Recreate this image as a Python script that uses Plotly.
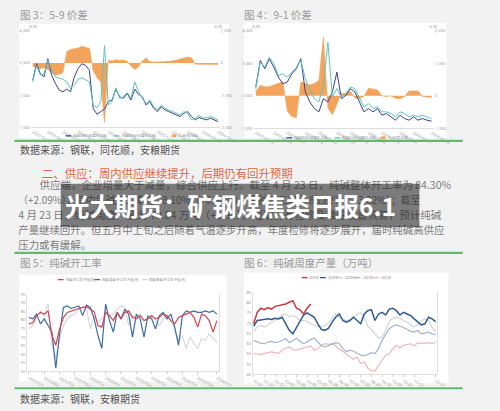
import plotly.graph_objects as go

CJK = "Noto Sans CJK SC"

# ---------------- Figure 3: 5-9 spread ----------------
c3_may = [2464, 2976, 2669, 2567, 3130, 2618, 2362, 2157, 2106, 2188,
          2106, 2567, 2823, 2976, 2925, 2772, 1594, 1410, 1492, 1573,
          1799, 1850, 2188, 1952, 1901, 2055, 1850, 2188, 2024, 1952,
          1696, 1799, 1594, 1492, 1645, 1543, 1492, 1440, 1389, 1338,
          1440, 1492, 1338, 1236, 1307, 1266, 1236, 1287, 1236, 1184]
c3_sep = [2413, 2925, 2618, 2669, 3079, 2772, 2567, 2536, 2495, 2413,
          2208, 2311, 2495, 2536, 2464, 2413, 1696, 1614, 1799, 3540,
          1696, 1799, 2229, 1901, 1952, 2085, 1901, 2413, 2106, 1901,
          1748, 1850, 1645, 1543, 1696, 1594, 1543, 1492, 1440, 1389,
          1492, 1440, 1236, 1287, 1369, 1287, 1307, 1338, 1287, 1236]
c3_spread = [-100, -150, -180, -150, -200, -300, -380, -350, -300, 350,
             420, 440, 460, 520, 480, 450, -250, -450, -600, -1850,
             80, 60, 100, 80, 90, 50, -100, -200, -120, 60,
             150, 40, 30, 30, 20, 40, 50, 60, 80, 120,
             150, 180, 160, -40, -40, -50, -40, -50, -40, -60]
c3_dates = ["2022-01-10", "2022-04-09", "2022-07-27", "2022-10-16", "2023-01-03",
            "2023-03-24", "2023-06-12", "2023-08-31", "2023-11-19", "2024-02-07",
            "2024-04-27", "2024-07-16", "2024-10-04"]
c3_names = ["纯碱05合约收盘价(左轴)", "纯碱09合约收盘价(左轴)", "5-9价差(右轴)"]

# ---------------- Figure 4: 9-1 spread ----------------
c4_sep = [2271, 3085, 2831, 3136, 2881, 2576, 2373, 2424, 2678, 2831,
          3136, 2119, 1814, 1610, 1509, 1915, 1814, 2119, 2729, 1915,
          2017, 2220, 2119, 1814, 1509, 1610, 1509, 1610, 1407, 1458,
          1356, 1254, 1407, 1305, 1254, 1356, 1254, 1305, 1254, 1224]
c4_jan = [2220, 3034, 2881, 3187, 2983, 2627, 2678, 2576, 2729, 2881,
          3085, 2526, 2170, 1915, 1814, 2322, 3644, 1966, 2220, 1966,
          2068, 2271, 2220, 1915, 1661, 1763, 1610, 1661, 1509, 1509,
          1458, 1356, 1509, 1458, 1356, 1407, 1356, 1407, 1356, 1305]
c4_spread = [130, 330, 280, 280, 330, 380, 430, -470, -630, -680,
             430, 380, 330, 380, 480, 1800, -370, -580, -270, 80,
             80, 130, -70, -70, -20, 230, 210, 180, 0, -20,
             0, -70, -90, -20, 150, 150, 150, -20, -40, -50]
c4_dates = ["2022-01-10", "2022-04-09", "2022-07-27", "2022-10-16", "2023-01-03",
            "2023-03-24", "2023-06-12", "2023-08-31", "2023-11-19", "2024-02-07",
            "2024-04-27", "2024-07-16"]
c4_names = ["纯碱09合约收盘价(左轴)", "纯碱01合约收盘价(左轴)", "9-1价差(右轴)"]

# ---------------- Figure 5: soda ash operating rate ----------------
c5_total = [77.8, 78.4, 82.6, 84.5, 83.5, 85.4, 71.1, 65.3, 74.9, 81.6,
            84.5, 85.4, 86.0, 86.8, 87.4, 87.9, 86.4, 84.9, 76.8, 75.9,
            84.5, 82.6, 79.7, 84.5, 80.7, 84.5, 85.4, 81.6, 80.7, 82.6,
            79.7, 80.7, 82.6, 80.7, 81.6, 83.5, 82.6, 79.7, 77.8, 81.6,
            82.6, 83.5, 84.5, 81.6, 75.9, 83.5, 82.6, 79.7, 73.0, 79.7]
c5_ammonia = [81.6, 80.7, 83.5, 77.8, 80.7, 76.8, 73.0, 51.9, 72.0, 87.4,
              88.3, 86.8, 87.4, 88.3, 82.6, 88.7, 87.4, 80.7, 71.1, 63.4,
              89.3, 79.7, 73.0, 84.5, 80.7, 86.4, 83.5, 70.1, 83.5, 80.7,
              70.1, 82.6, 80.7, 74.9, 82.6, 84.5, 80.7, 83.5, 75.9, 65.3,
              82.6, 85.4, 84.5, 85.4, 84.5, 84.5, 85.4, 84.5, 85.4, 83.5]
c5_joint = [74.9, 76.8, 81.6, 85.4, 82.6, 89.3, 65.3, 57.7, 69.2, 76.8,
            80.7, 82.6, 83.5, 86.4, 87.4, 86.8, 74.9, 82.6, 78.7, 80.7,
            84.5, 82.6, 83.5, 86.4, 88.3, 87.4, 76.8, 82.6, 81.6, 83.5,
            79.7, 80.7, 81.6, 79.7, 76.8, 80.7, 82.6, 79.7, 74.9, 68.2,
            71.1, 63.4, 70.1, 66.3, 63.4, 69.2, 68.2, 72.0, 69.2, 67.2]
c5_dates = ["2021/1/1", "2021/4/2", "2021/7/2", "2021/10/1", "2022/1/1", "2022/4/1",
            "2022/7/1", "2022/10/1", "2023/1/1", "2023/4/1", "2023/7/1", "2023/10/1", "2024/1/1"]
c5_names = ["纯碱:开工率:中国(周)", "纯碱:氨碱:开工率:中国(周)", "纯碱:联碱:开工率:中国(周)"]
c5_yticks = [50, 55, 60, 65, 70, 75, 80, 85, 90, 95]

# ---------------- Figure 6: weekly soda ash output ----------------
y2025 = [69.7, 75.3, 77.3, 76.6, 77.6, 76.9, 78.2, 78.5, 78.9, 79.4,
         80.2, 81.0, 77.3, 76.5, 74.5, 77.3, 79.4]
y2024 = [68.5, 71.3, 71.6, 71.8, 72.1, 71.8, 72.4, 72.1, 72.9, 69.7,
         66.5, 64.8, 68.1, 71.3, 74.0, 75.0, 74.0, 72.9, 69.7, 66.9,
         66.5, 67.6, 70.5, 72.9, 74.5, 71.3, 70.5, 71.3, 72.9, 71.3,
         69.7, 74.5, 76.1, 76.6, 71.3, 74.5, 75.3, 74.0, 76.9, 77.3,
         76.1, 74.0, 75.3, 74.5, 73.7, 72.1, 70.8, 69.2, 69.7, 72.9,
         72.1, 70.8]
y2023 = [66.0, 68.1, 68.9, 68.1, 69.2, 70.5, 71.3, 72.9, 74.0, 74.5,
         73.2, 73.7, 72.9, 71.3, 71.3, 70.8, 69.7, 68.9, 68.4, 68.1,
         68.9, 70.2, 72.4, 74.5, 72.9, 72.1, 71.3, 71.8, 72.9, 74.0,
         75.3, 72.9, 68.5, 66.9, 64.8, 62.7, 63.2, 66.5, 70.8, 72.4,
         72.9, 72.4, 71.3, 70.5, 69.2, 68.1, 69.2, 71.3, 72.1, 71.3,
         68.1, 66.0]
y2022 = [61.6, 60.8, 60.3, 60.0, 60.8, 61.1, 60.5, 60.8, 61.6, 62.4,
         60.5, 61.6, 62.7, 61.1, 60.0, 60.8, 62.1, 62.7, 60.8, 58.9,
         58.4, 59.2, 60.0, 60.5, 60.0, 57.6, 56.0, 56.8, 56.3, 55.2,
         54.4, 54.0, 54.7, 55.6, 55.2, 57.6, 61.6, 64.8, 67.3, 68.5,
         69.2, 68.5, 67.9, 66.9, 66.0, 65.6, 66.5, 64.8, 65.3, 65.6,
         64.8, 64.4]
y2021 = [55.2, 55.0, 54.7, 55.3, 55.6, 56.0, 55.6, 55.3, 56.8, 57.9,
         58.4, 57.1, 56.8, 57.3, 57.9, 58.4, 58.9, 56.8, 57.6, 59.2,
         60.0, 59.7, 60.0, 58.9, 57.3, 56.3, 54.7, 53.5, 52.4, 53.5,
         50.3, 51.1, 48.2, 46.9, 46.6, 49.5, 51.9, 54.4, 55.0, 57.6,
         59.2, 57.9, 59.2, 59.5, 60.0, 58.9, 60.5, 60.0, 60.3, 60.5,
         60.0, 60.8]
c6_names = ["2025年", "2024年", "2023年", "2022年", "2021年"]
c6_weeks = ["01-01", "01-22", "02-12", "03-05", "03-26", "04-16", "05-07", "05-28",
            "06-18", "07-09", "07-30", "08-20", "09-10", "10-01", "10-22", "11-12", "12-31"]
c6_yticks = [45, 50, 55, 60, 65, 70, 75, 80, 85]

# ---------------- page text ----------------
body = ["供应端，企业增量大于减量，综合供应上行。截至 4 月 23 日，纯碱整体开工率为 84.30%",
        "（+2.09%），其中氨碱开工率为 88.10%（+0.80%），联碱开工率为 83.82%（+3.82%）；截至",
        "4 月 23 日，纯碱周度产量为 79.84 万吨（+1.98）。短期仍有检修及难停装置恢复，预计纯碱",
        "产量继续回升。但五月中上旬之后随着气温逐步升高，年度检修将逐步展开，届时纯碱高供应",
        "压力或有缓解。"]

# ---------------- colours ----------------
NAVY = "#3d3f8f"
TEAL = "#5cc6bb"
ORANGE = "#f3a35a"
C5_COLS = ["#d2444c", "#3f6aa8", "#d9d9d9"]
C6_COLS = ["#c9373f", "#2f5b93", "#d4d4d4", "#a3b3cd", "#ecb6be"]

W, H = 500, 411


def px(x):
    return x / W


def py(y):
    return 1 - y / H


fig = go.Figure()

# paragraph text lives in a full-page hidden subplot so the title band can cover it
fig.add_trace(go.Scatter(x=[41, 19, 19, 19, 19], y=[186, 201, 216.5, 231, 246], mode="text",
                         text=body, textposition="middle right",
                         textfont=dict(size=[10.5, 9.8, 10.5, 10.4, 10.4], color="#7c7c7c", family=CJK),
                         xaxis="x5", yaxis="y7", showlegend=False, hoverinfo="skip", cliponaxis=False))

# chart 3 (spread area on base axis y, prices on overlay y5)
fig.add_trace(go.Scatter(y=c3_spread, name=c3_names[2], mode="lines", fill="tozeroy",
                         line=dict(color=ORANGE, width=0.6), fillcolor=ORANGE, xaxis="x", yaxis="y"))
fig.add_trace(go.Scatter(y=c3_may, name=c3_names[0], mode="lines", line=dict(color=NAVY, width=1),
                         xaxis="x", yaxis="y5"))
fig.add_trace(go.Scatter(y=c3_sep, name=c3_names[1], mode="lines", line=dict(color=TEAL, width=1),
                         xaxis="x", yaxis="y5"))

# chart 4
fig.add_trace(go.Scatter(y=c4_spread, name=c4_names[2], mode="lines", fill="tozeroy",
                         line=dict(color=ORANGE, width=0.6), fillcolor=ORANGE, xaxis="x2", yaxis="y2"))
fig.add_trace(go.Scatter(y=c4_sep, name=c4_names[0], mode="lines", line=dict(color=NAVY, width=1),
                         xaxis="x2", yaxis="y6"))
fig.add_trace(go.Scatter(y=c4_jan, name=c4_names[1], mode="lines", line=dict(color=TEAL, width=1),
                         xaxis="x2", yaxis="y6"))

# chart 5 (light series drawn first)
for vals, nm, col in [(c5_joint, c5_names[2], C5_COLS[2]), (c5_ammonia, c5_names[1], C5_COLS[1]),
                      (c5_total, c5_names[0], C5_COLS[0])]:
    fig.add_trace(go.Scatter(y=vals, name=nm, mode="lines", line=dict(color=col, width=1.2),
                             xaxis="x3", yaxis="y3"))

# chart 6 (older years first)
for vals, nm, col, w in [(y2021, c6_names[4], C6_COLS[4], 1.2), (y2022, c6_names[3], C6_COLS[3], 1.2),
                         (y2023, c6_names[2], C6_COLS[2], 1.2), (y2024, c6_names[1], C6_COLS[1], 1.5),
                         (y2025, c6_names[0], C6_COLS[0], 1.5)]:
    fig.add_trace(go.Scatter(y=vals, name=nm, mode="lines", line=dict(color=col, width=w),
                             xaxis="x4", yaxis="y4"))

tickf = dict(size=4, color="#9a9a9a", family="Noto Sans")
axbase = dict(showgrid=False, zeroline=False, tickfont=tickf, ticks="", fixedrange=True)

layout = dict(
    width=W, height=H, margin=dict(l=0, r=0, t=0, b=0),
    paper_bgcolor="#f2f2f2", plot_bgcolor="rgba(0,0,0,0)",
    showlegend=False, hovermode=False,
    font=dict(family=CJK),
    # chart 3
    xaxis=dict(axbase, domain=[px(32), px(228)], anchor="y", range=[-0.5, 49.5],
               showline=True, linecolor="#d5d5d5", linewidth=0.8,
               tickvals=[0, 4, 8, 12, 16, 20, 24, 29, 33, 37, 41, 45, 49], ticktext=c3_dates),
    yaxis=dict(axbase, domain=[py(126), py(28)], anchor="x", side="right", range=[-2000, 1000],
               tickvals=[-2000, -1000, 0, 1000], ticktext=["-2,000", "-1,000", "0", "1,000"]),
    yaxis5=dict(axbase, overlaying="y", anchor="x", side="left", range=[1000, 4000],
                tickvals=[1000, 2000, 3000, 4000], ticktext=["1,000", "2,000", "3,000", "4,000"]),
    # chart 4
    xaxis2=dict(axbase, domain=[px(263), px(450)], anchor="y2", range=[-0.5, 39.5],
                showline=True, linecolor="#d5d5d5", linewidth=0.8,
                tickvals=[0, 4, 7, 11, 14, 18, 21, 25, 28, 32, 35, 39], ticktext=c4_dates),
    yaxis2=dict(axbase, domain=[py(127), py(28)], anchor="x2", side="right", range=[-1000, 2000],
                tickvals=[-1000, 0, 1000, 2000], ticktext=["-1,000", "0", "1,000", "2,000"]),
    yaxis6=dict(axbase, overlaying="y2", anchor="x2", side="left", range=[1000, 4000],
                tickvals=[1000, 2000, 3000, 4000], ticktext=["1,000", "2,000", "3,000", "4,000"]),
    # chart 5
    xaxis3=dict(axbase, domain=[px(28), px(227)], anchor="y3", range=[-0.5, 49.5],
                showline=True, linecolor="#d8d8d8", linewidth=0.8, ticks="outside", ticklen=2,
                tickcolor="#ccc", tickvals=[0, 4, 8, 12, 16, 20, 24, 28, 32, 36, 40, 44, 49],
                ticktext=c5_dates),
    yaxis3=dict(axbase, domain=[py(373), py(295)], anchor="x3", range=[50, 95],
                tickvals=c5_yticks, showline=True, mirror=True, linecolor="#d8d8d8", linewidth=0.8),
    # chart 6
    xaxis4=dict(axbase, domain=[px(262), px(453)], anchor="y4", range=[-0.3, 51.3],
                showline=True, linecolor="#d8d8d8", linewidth=0.8, ticks="outside", ticklen=2,
                tickcolor="#ccc", tickvals=[0, 3, 6, 9, 12, 15, 18, 21, 24, 27, 30, 33, 36, 39, 42, 45, 51],
                ticktext=c6_weeks),
    yaxis4=dict(axbase, domain=[py(376), py(293)], anchor="x4", range=[45, 85],
                tickvals=c6_yticks, showline=True, mirror=True, linecolor="#d8d8d8", linewidth=0.8),
    # full-page text layer
    xaxis5=dict(domain=[0, 1], anchor="y7", range=[0, W], visible=False, fixedrange=True),
    yaxis7=dict(domain=[0, 1], anchor="x5", range=[H, 0], visible=False, fixedrange=True),
)

shapes = []
ann = []

# white chart panels
for x0, y0, x1, y1 in [(20, 21, 237, 137), (253, 20, 463, 137), (20, 275, 235, 383), (253, 273, 465, 385)]:
    shapes.append(dict(type="rect", xref="paper", yref="paper", x0=px(x0), x1=px(x1), y0=py(y1), y1=py(y0),
                       fillcolor="white", line=dict(width=0), layer="below"))
# green separators
for yy in [139.5, 253, 390]:
    shapes.append(dict(type="line", xref="paper", yref="paper", x0=px(15), x1=px(480), y0=py(yy), y1=py(yy),
                       line=dict(color="#5dbb72", width=2.2), layer="above"))
# title overlay band (covers the paragraph text trace)
shapes.append(dict(type="rect", xref="paper", yref="paper", x0=px(63), x1=px(435), y0=py(227), y1=py(183),
                   fillcolor="rgba(25,25,25,0.55)", line=dict(width=0), layer="above"))


def legend_row(items, y, size=3.2):
    # items: (x, name, colour, kind)
    for x, nm, col, kind in items:
        if kind == "bar":
            shapes.append(dict(type="rect", xref="paper", yref="paper", x0=px(x), x1=px(x + 5),
                               y0=py(y + 1.5), y1=py(y - 1.5), fillcolor=col, line=dict(width=0)))
        else:
            shapes.append(dict(type="line", xref="paper", yref="paper", x0=px(x), x1=px(x + 6),
                               y0=py(y), y1=py(y), line=dict(color=col, width=1.3)))
        ann.append(dict(xref="paper", yref="paper", x=px(x + 7), y=py(y), text=nm, showarrow=False,
                        xanchor="left", yanchor="middle", borderpad=0,
                        font=dict(size=size, color="#8a8a8a", family=CJK)))


legend_row([(68, c3_names[0], NAVY, "line"), (118, c3_names[1], TEAL, "line"),
            (178, c3_names[2], ORANGE, "bar")], 134.5)
legend_row([(297, c4_names[0], NAVY, "line"), (347, c4_names[1], TEAL, "line"),
            (395, c4_names[2], ORANGE, "bar")], 136.5)
legend_row([(60, c5_names[0], C5_COLS[0], "line"), (98, c5_names[1], C5_COLS[1], "line"),
            (147, c5_names[2], C5_COLS[2], "line")], 280)
legend_row([(313, c6_names[0], C6_COLS[0], "line"), (332, c6_names[1], C6_COLS[1], "line"),
            (350, c6_names[2], C6_COLS[2], "line"), (368, c6_names[3], C6_COLS[3], "line"),
            (387, c6_names[4], C6_COLS[4], "line")], 278)


def text(x, y, s, size, color, anchor="left"):
    ann.append(dict(xref="paper", yref="paper", x=px(x), y=py(y), text=s, showarrow=False,
                    xanchor=anchor, yanchor="middle", font=dict(size=size, color=color, family=CJK)))


# unit labels above the price / spread axes
for ux, uy, anc in [(28, 24, "left"), (232, 24, "right"), (259, 24, "left"), (455, 24, "right")]:
    text(ux, uy, "元/吨", 3.2, "#9a9a9a", anc)

text(19, 12, "图 3：5-9 价差", 10.5, "#9a9a9a")
text(251, 12, "图 4：9-1 价差", 10.5, "#9a9a9a")
text(19, 148, "数据来源：钢联，同花顺，安粮期货", 10, "#505050")
text(41, 172, "二、供应：周内供应继续提升，后期仍有回升预期", 11.4, "#e0663f")
text(19, 263, "图 5：纯碱开工率", 10.5, "#9a9a9a")
text(251, 263, "图 6：纯碱周度产量（万吨）", 10.5, "#9a9a9a")
text(19, 400, "数据来源：钢联，安粮期货", 10, "#505050")
ann.append(dict(xref="paper", yref="paper", x=px(239), y=py(205), text="<b>光大期货：矿钢煤焦类日报6.1</b>",
                showarrow=False, xanchor="center", yanchor="middle",
                font=dict(size=24.5, color="white", family=CJK)))

layout["shapes"] = shapes
layout["annotations"] = ann

fig.update_layout(**layout)
fig.write_html("out.html", config={"displayModeBar": False, "staticPlot": True},
               post_script="document.body.style.margin='0';document.body.style.overflow='hidden';")
